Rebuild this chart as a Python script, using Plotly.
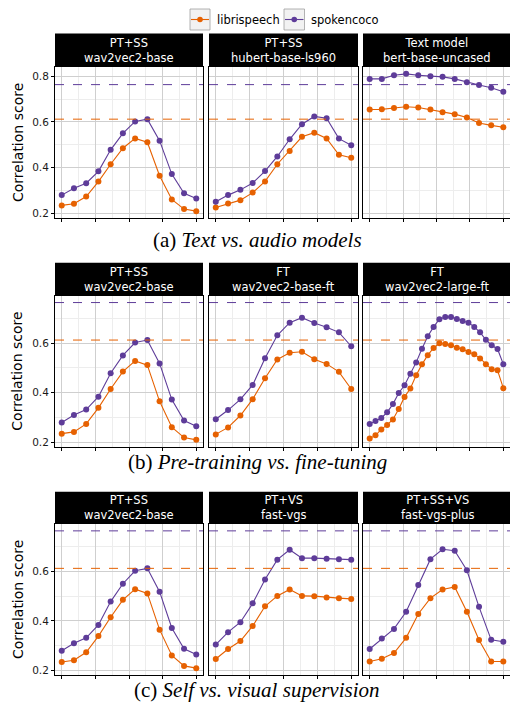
import plotly.graph_objects as go

W, H = 510, 707
ORANGE = "#e66101"
PURPLE = "#5e3c99"

series_names = ["librispeech", "spokencoco"]
hline_librispeech = 0.612
hline_spokencoco = 0.763

# ---- data (correlation score per layer) ----
w2v2_base_libri = [0.235, 0.242, 0.274, 0.339, 0.415, 0.485, 0.528, 0.511, 0.365, 0.261, 0.219, 0.210]
w2v2_base_coco = [0.280, 0.310, 0.332, 0.384, 0.478, 0.550, 0.602, 0.612, 0.518, 0.372, 0.288, 0.265]

hubert_libri = [0.226, 0.243, 0.258, 0.291, 0.340, 0.415, 0.473, 0.535, 0.553, 0.528, 0.456, 0.443]
hubert_coco = [0.251, 0.280, 0.303, 0.333, 0.385, 0.449, 0.524, 0.590, 0.624, 0.616, 0.527, 0.498]

bert_libri = [0.654, 0.655, 0.661, 0.666, 0.663, 0.654, 0.642, 0.634, 0.619, 0.595, 0.585, 0.577]
bert_coco = [0.788, 0.788, 0.804, 0.810, 0.804, 0.800, 0.797, 0.788, 0.773, 0.761, 0.749, 0.732]

w2v2_base_ft_libri = [0.232, 0.260, 0.308, 0.374, 0.458, 0.534, 0.561, 0.565, 0.535, 0.516, 0.484, 0.415]
w2v2_base_ft_coco = [0.293, 0.330, 0.373, 0.431, 0.539, 0.631, 0.682, 0.702, 0.681, 0.664, 0.643, 0.587]

w2v2_large_ft_libri = [0.215, 0.228, 0.252, 0.270, 0.292, 0.334, 0.383, 0.417, 0.470, 0.514, 0.551, 0.580,
                       0.599, 0.596, 0.591, 0.581, 0.575, 0.564, 0.555, 0.538, 0.514, 0.494, 0.490, 0.418]
w2v2_large_ft_coco = [0.274, 0.286, 0.298, 0.321, 0.354, 0.399, 0.430, 0.476, 0.522, 0.577, 0.627, 0.665,
                      0.696, 0.705, 0.705, 0.697, 0.689, 0.682, 0.665, 0.643, 0.613, 0.591, 0.576, 0.515]

fastvgs_libri = [0.247, 0.287, 0.319, 0.380, 0.459, 0.501, 0.527, 0.501, 0.500, 0.495, 0.492, 0.489]
fastvgs_coco = [0.305, 0.355, 0.395, 0.471, 0.567, 0.647, 0.687, 0.653, 0.653, 0.651, 0.649, 0.647]

fastvgsplus_libri = [0.237, 0.248, 0.271, 0.332, 0.428, 0.492, 0.527, 0.537, 0.437, 0.323, 0.237, 0.237]
fastvgsplus_coco = [0.287, 0.329, 0.368, 0.437, 0.545, 0.649, 0.689, 0.683, 0.604, 0.457, 0.324, 0.316]

rows = [
    {"caption": "(a) <i>Text vs. audio models</i>",
     "panels": [("PT+SS", "wav2vec2-base", w2v2_base_libri, w2v2_base_coco),
                ("PT+SS", "hubert-base-ls960", hubert_libri, hubert_coco),
                ("Text model", "bert-base-uncased", bert_libri, bert_coco)]},
    {"caption": "(b) <i>Pre-training vs. fine-tuning</i>",
     "panels": [("PT+SS", "wav2vec2-base", w2v2_base_libri, w2v2_base_coco),
                ("FT", "wav2vec2-base-ft", w2v2_base_ft_libri, w2v2_base_ft_coco),
                ("FT", "wav2vec2-large-ft", w2v2_large_ft_libri, w2v2_large_ft_coco)]},
    {"caption": "(c) <i>Self vs. visual supervision</i>",
     "panels": [("PT+SS", "wav2vec2-base", w2v2_base_libri, w2v2_base_coco),
                ("PT+VS", "fast-vgs", fastvgs_libri, fastvgs_coco),
                ("PT+SS+VS", "fast-vgs-plus", fastvgsplus_libri, fastvgsplus_coco)]},
]

# ---- layout geometry (pixels) ----
col_px = [(55, 203), (209, 358), (363, 511)]
row_px = [  # strip top, panel top, panel bottom, caption y
    (33.5, 67, 218, 240),
    (262.7, 295.7, 446.7, 462),
    (491.7, 524, 675, 690),
]

def px_x(x):
    return x / W

def px_y(y):
    return 1 - y / H

FONT = "DejaVu Sans"
fig = go.Figure()
shapes = []
annotations = []
layout_axes = {}

k = 0
for r, row in enumerate(rows):
    vals = [hline_librispeech, hline_spokencoco]
    for p in row["panels"]:
        vals += p[2] + p[3]
    lo, hi = min(vals), max(vals)
    span = hi - lo
    yrange = [lo - 0.05 * span, hi + 0.05 * span]
    st, pt, pb, capy = row_px[r]
    for c, (t1, t2, libri, coco) in enumerate(row["panels"]):
        k += 1
        xa = "x" if k == 1 else f"x{k}"
        ya = "y" if k == 1 else f"y{k}"
        n = len(libri)
        layer = list(range(1, n + 1))
        xrel = [(l - 1) / (n - 1) for l in layer]
        for name, ys, col in [("librispeech", libri, ORANGE), ("spokencoco", coco, PURPLE)]:
            fig.add_trace(go.Scatter(
                x=xrel, y=ys, mode="lines+markers", name=name, showlegend=False,
                line=dict(color=col, width=1.1),
                marker=dict(color=col, size=6),
                xaxis=xa, yaxis=ya))
        for hv, col in [(hline_librispeech, ORANGE), (hline_spokencoco, PURPLE)]:
            fig.add_trace(go.Scatter(
                x=[-0.05, 1.05], y=[hv, hv], mode="lines", showlegend=False,
                line=dict(color=col, width=1, dash="dash"),
                hoverinfo="skip", xaxis=xa, yaxis=ya))
        x0, x1 = col_px[c]
        kx = "xaxis" if k == 1 else f"xaxis{k}"
        ky = "yaxis" if k == 1 else f"yaxis{k}"
        layout_axes[kx] = dict(
            domain=[px_x(x0), min(1.0, px_x(x1))], anchor=ya, range=[-0.05, 1.05],
            tick0=0, dtick=0.25, showticklabels=False, ticks="outside",
            ticklen=3, tickcolor="black", tickwidth=0.8,
            showgrid=True, gridcolor="#cfcfcf", gridwidth=0.7,
            minor=dict(dtick=0.125, tick0=0, showgrid=True, gridcolor="#ededed", gridwidth=0.5),
            showline=True, linecolor="black", linewidth=1, mirror=True,
            zeroline=False, fixedrange=True)
        layout_axes[ky] = dict(
            domain=[px_y(pb), px_y(pt)], anchor=xa, range=yrange,
            tick0=0, dtick=0.2, tickformat=".1f",
            showticklabels=(c == 0), ticks="outside" if c == 0 else "",
            ticklen=3, tickcolor="black", tickwidth=0.8,
            tickfont=dict(family=FONT, size=10.5, color="#1a1a1a"),
            showgrid=True, gridcolor="#cfcfcf", gridwidth=0.7,
            minor=dict(dtick=0.1, tick0=0, showgrid=True, gridcolor="#ededed", gridwidth=0.5),
            showline=True, linecolor="black", linewidth=1, mirror=True,
            zeroline=False, fixedrange=True)
        # strip
        shapes.append(dict(type="rect", xref="paper", yref="paper",
                           x0=px_x(x0), x1=min(1.0, px_x(x1)), y0=px_y(pt), y1=px_y(st),
                           fillcolor="black", line=dict(width=0), layer="above"))
        annotations.append(dict(xref="paper", yref="paper", x=px_x((x0 + x1) / 2),
                                y=px_y((st + pt) / 2), text=f"{t1}<br>{t2}", showarrow=False,
                                font=dict(family=FONT, size=11.5, color="white"),
                                xanchor="center", yanchor="middle"))
    # y title
    annotations.append(dict(xref="paper", yref="paper", x=px_x(17.5), y=px_y((pt + pb) / 2),
                            text="Correlation score", textangle=-90, showarrow=False,
                            font=dict(family=FONT, size=14, color="black"),
                            xanchor="center", yanchor="middle"))
    # caption
    annotations.append(dict(xref="paper", yref="paper", x=px_x(257), y=px_y(capy),
                            text=row["caption"], showarrow=False,
                            font=dict(family="Liberation Serif", size=21, color="black"),
                            xanchor="center", yanchor="middle"))

# ---- legend (manual keys) ----
leg_items = [(190, 210, 214.5, "librispeech", ORANGE), (284, 304.5, 308.5, "spokencoco", PURPLE)]
for bx0, bx1, tx, label, col in leg_items:
    shapes.append(dict(type="rect", xref="paper", yref="paper",
                       x0=px_x(bx0), x1=px_x(bx1), y0=px_y(30), y1=px_y(9),
                       fillcolor="#f2f2f2", line=dict(color="#a0a0a0", width=0.8)))
    shapes.append(dict(type="line", xref="paper", yref="paper",
                       x0=px_x(bx0 + 1), x1=px_x(bx1 - 1), y0=px_y(19.5), y1=px_y(19.5),
                       line=dict(color=col, width=1.1)))
    cx = (bx0 + bx1) / 2
    shapes.append(dict(type="circle", xref="paper", yref="paper",
                       x0=px_x(cx - 2.8), x1=px_x(cx + 2.8), y0=px_y(22.3), y1=px_y(16.7),
                       fillcolor=col, line=dict(color=col, width=0)))
    annotations.append(dict(xref="paper", yref="paper", x=px_x(tx), y=px_y(19.5),
                            text=label, showarrow=False, xanchor="left", yanchor="middle",
                            font=dict(family=FONT, size=11.5, color="black")))

fig.update_layout(
    width=W, height=H, margin=dict(l=0, r=0, t=0, b=0),
    paper_bgcolor="white", plot_bgcolor="white",
    showlegend=False, shapes=shapes, annotations=annotations,
    **layout_axes)

fig.write_html("out.html", config={"displayModeBar": False},
               post_script="document.body.style.margin='0';document.body.style.overflow='hidden';")
